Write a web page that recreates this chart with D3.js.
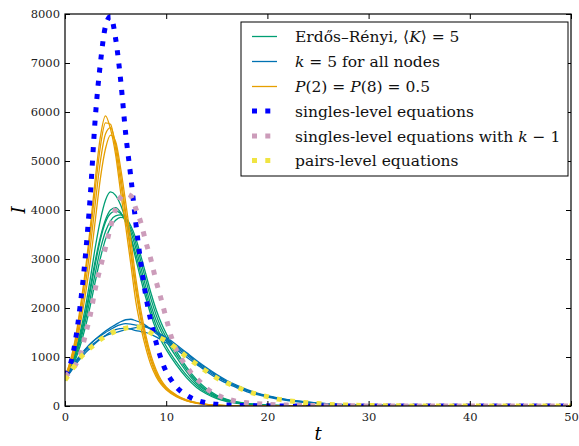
<!DOCTYPE html>
<html><head><meta charset="utf-8">
<script src="https://cdn.jsdelivr.net/npm/d3@7"></script>
<style>
body{margin:0;background:#fff;}
</style></head>
<body><svg id="c" width="579" height="446"></svg>
<script>
// ---------- data ----------
const xTicks = [0,10,20,30,40,50];
const yTicks = [0,1000,2000,3000,4000,5000,6000,7000,8000];

// time grid shared by the stochastic runs
const tRun = [0,0.5,1,1.5,2,2.5,3,3.5,4,4.5,5,5.5,6,6.5,7,7.5,8,8.5,9,9.5,10,
              11,12,13,14,15,16,17,18,19,20,22,25,30,40,50];

// Erdős–Rényi runs
const er1 = [600,800,1100,1500,2000,2600,3250,3800,4200,4370,4300,4100,3800,3420,3000,2580,2200,1850,1560,1330,1150,840,580,380,245,150,90,55,32,18,10,4,1,0,0,0];
const er2 = [580,780,1060,1430,1880,2420,2980,3450,3800,4000,4050,3950,3750,3450,3100,2700,2300,1950,1650,1420,1220,900,630,420,270,170,105,65,40,24,14,5,2,0,0,0];
const er3 = [550,750,1020,1380,1820,2350,2900,3400,3750,3930,3980,3930,3800,3550,3220,2820,2420,2050,1750,1520,1330,1000,700,460,300,185,115,70,42,25,15,6,2,0,0,0];
const er4 = [530,720,980,1310,1720,2200,2720,3200,3560,3780,3880,3900,3820,3620,3320,2950,2560,2180,1860,1600,1400,1060,750,500,320,200,125,78,48,30,18,7,2,0,0,0];
const er5 = [520,700,930,1230,1600,2050,2550,3020,3400,3650,3790,3850,3830,3680,3420,3060,2680,2300,1970,1700,1480,1120,800,540,350,220,135,85,52,32,20,8,3,0,0,0];

// k = 5 for all nodes runs
const reg1 = [560,720,880,1020,1150,1260,1360,1450,1530,1600,1660,1720,1760,1770,1740,1700,1640,1560,1480,1400,1330,1190,1040,880,730,600,490,395,315,250,195,120,55,12,1,0];
const reg2 = [540,680,830,960,1080,1180,1280,1370,1430,1470,1500,1530,1560,1580,1600,1620,1610,1570,1510,1440,1370,1220,1070,910,760,620,500,400,320,255,200,125,60,15,2,0];
const reg3 = [550,700,860,1000,1120,1220,1300,1380,1440,1510,1560,1580,1590,1570,1540,1520,1500,1460,1410,1350,1290,1150,1000,850,700,570,460,370,290,230,180,110,50,10,1,0];
const reg4 = [570,740,900,1040,1160,1270,1360,1430,1500,1560,1620,1660,1680,1670,1650,1640,1620,1580,1520,1460,1400,1250,1090,930,780,640,520,420,335,265,210,130,62,15,2,0];

// P(2)=P(8)=0.5 runs
const bim1 = [600,900,1350,2000,2750,3650,4650,5500,5920,5650,5130,4360,3660,2900,2130,1600,1170,830,600,440,330,190,105,55,30,15,8,4,2,1,0,0,0,0,0,0];
const bim2 = [600,880,1300,1930,2650,3500,4450,5300,5780,5750,5250,4550,3850,3100,2350,1750,1280,910,650,470,350,200,110,60,30,15,8,4,2,1,0,0,0,0,0,0];
const bim3 = [550,820,1200,1780,2450,3250,4150,5000,5550,5680,5350,4700,3950,3200,2450,1830,1350,960,690,500,370,215,120,65,35,18,9,5,2,1,0,0,0,0,0,0];
const bim4 = [550,800,1150,1650,2250,2950,3800,4650,5250,5530,5400,4850,4150,3400,2600,1950,1430,1030,740,530,390,225,125,70,35,18,9,5,2,1,0,0,0,0,0,0];

// singles-level equations
const tSingle = [0,0.5,1,1.5,2,2.5,3,3.5,4,4.5,5,5.5,6,6.5,7,7.5,8,8.5,9,9.5,10,10.5,11,12,13,14,15,16,18,20,25,30,40,50];
const singles = [620,830,1300,2050,3030,4300,5900,7000,7750,7950,7500,6650,5550,4680,3730,2910,2230,1720,1300,960,700,530,390,220,120,65,35,20,8,3,0,0,0,0];

// singles-level equations with k-1
const tSingleK = [0,0.5,1,1.5,2,2.5,3,3.5,4,4.5,5,5.5,6,6.5,7,7.5,8,8.5,9,9.5,10,10.5,11,11.5,12,12.5,13,13.5,14,15,16,17,18,20,22,25,30,40,50];
const singlesK = [600,700,830,1040,1440,1860,2400,2830,3230,3650,4020,4260,4330,4290,4030,3740,3340,2980,2550,2180,1790,1415,1140,960,810,667,560,463,360,230,145,95,65,35,18,8,2,0,0];

// pairs-level equations
const tPairs = [0,0.5,1,1.5,2,2.5,3,3.5,4,4.5,5,5.5,6,6.5,7,7.5,8,8.5,9,9.5,10,11,12,13,14,15,16,17,18,19,20,21,22,23,24,25,26,27,28,30,32,35,40,50];
const pairs = [530,680,840,980,1090,1185,1265,1355,1420,1480,1530,1565,1590,1605,1610,1600,1560,1490,1430,1380,1330,1175,1005,850,705,570,470,385,300,240,190,140,110,85,65,50,35,25,18,10,5,2,1,0];

const legendLabels = ["Erdős–Rényi", "k = 5 for all nodes", "P(2) = P(8) = 0.5",
  "singles-level equations", "singles-level equations with k − 1", "pairs-level equations"];

// ---------- drawing ----------
const FONT = "DejaVu Serif";
const svg = d3.select("#c");
const L = 65, R = 571, T = 14, B = 406;
const x = d3.scaleLinear().domain([0,50]).range([L,R]);
const y = d3.scaleLinear().domain([0,8000]).range([B,T]);

const cTeal = "#009E73", cBlue = "#0072B2", cOrange = "#E69F00";
const cSingle = "#0000FF", cPink = "#CC9CBA", cYellow = "#F0E442";

svg.append("defs").append("clipPath").attr("id","pc")
  .append("rect").attr("x",L).attr("y",T-1).attr("width",R-L).attr("height",B-T+1);

const g = svg.append("g").attr("clip-path","url(#pc)");
const line = (ts) => d3.line().x((d,i)=>x(ts[i])).y(d=>y(d)).curve(d3.curveMonotoneX);

function run(vals, color){
  g.append("path").datum(vals).attr("d", line(tRun))
   .attr("fill","none").attr("stroke",color).attr("stroke-width",1.3);
}
[er1,er2,er3,er4,er5].forEach(v=>run(v,cTeal));
[reg1,reg2,reg3,reg4].forEach(v=>run(v,cBlue));
[bim1,bim2,bim3,bim4].forEach(v=>run(v,cOrange));

function dotted(ts, vals, color){
  g.append("path").datum(vals).attr("d", line(ts))
   .attr("fill","none").attr("stroke",color).attr("stroke-width",5)
   .attr("stroke-dasharray","5,8.3").attr("stroke-linecap","butt");
}
dotted(tSingle, singles, cSingle);
dotted(tSingleK, singlesK, cPink);
dotted(tPairs, pairs, cYellow);

// axes (ticks inward on all sides)
const fs = "11.5px";
const fmt = d3.format("d");
const ax = svg.append("g").attr("transform",`translate(0,${B})`)
  .call(d3.axisBottom(x).tickValues(xTicks).tickFormat(fmt).tickSizeInner(-5).tickSizeOuter(0).tickPadding(7));
const axT = svg.append("g").attr("transform",`translate(0,${T})`)
  .call(d3.axisTop(x).tickValues(xTicks).tickSizeInner(-5).tickSizeOuter(0).tickFormat(""));
const ay = svg.append("g").attr("transform",`translate(${L},0)`)
  .call(d3.axisLeft(y).tickValues(yTicks).tickFormat(fmt).tickSizeInner(-5).tickSizeOuter(0).tickPadding(5));
const ayR = svg.append("g").attr("transform",`translate(${R},0)`)
  .call(d3.axisRight(y).tickValues(yTicks).tickSizeInner(-5).tickSizeOuter(0).tickFormat(""));
[ax,axT,ay,ayR].forEach(a=>{
  a.attr("font-family",FONT).attr("font-size",fs);
  a.select(".domain").remove();
  a.selectAll("line").attr("stroke","#000").attr("stroke-width",1);
  a.selectAll("text").attr("fill","#222").style("font-family",FONT).attr("font-size",fs);
});
svg.append("rect").attr("x",L).attr("y",T).attr("width",R-L).attr("height",B-T)
  .attr("fill","none").attr("stroke","#000").attr("stroke-width",1.2);

// axis labels
svg.append("text").attr("x",318).attr("y",440).attr("text-anchor","middle").style("font-family",FONT)
  .attr("font-size","18px").attr("font-style","italic").text("t");
svg.append("text").attr("transform","translate(25,210) rotate(-90)").attr("text-anchor","middle").style("font-family",FONT)
  .attr("font-size","18px").attr("font-style","italic").text("I");

// legend
const lg = svg.append("g");
lg.append("rect").attr("x",241).attr("y",22).attr("width",327).attr("height",154)
  .attr("fill","#fff").attr("stroke","#000").attr("stroke-width",1);
const rowY = [36.5,61.5,86.5,111,136,160.5];
const lc = [cTeal,cBlue,cOrange,cSingle,cPink,cYellow];
rowY.forEach((yy,i)=>{
  if(i<3){
    lg.append("line").attr("x1",252).attr("x2",277).attr("y1",yy).attr("y2",yy)
      .attr("stroke",lc[i]).attr("stroke-width",1.3);
  } else {
    lg.append("line").attr("x1",252).attr("x2",277).attr("y1",yy).attr("y2",yy)
      .attr("stroke",lc[i]).attr("stroke-width",5).attr("stroke-dasharray","5,8.3");
  }
});
const tx = 295, fsz = "15.5px";
function row(i){
  return lg.append("text").attr("x",tx).attr("y",rowY[i]+5.5).attr("font-size",fsz)
    .style("font-family",FONT).attr("fill","#111");
}
let t0 = row(0);
t0.append("tspan").text(legendLabels[0]+", ⟨");
t0.append("tspan").attr("font-style","italic").text("K");
t0.append("tspan").text("⟩ = 5");
let t1 = row(1);
t1.append("tspan").attr("font-style","italic").text("k");
t1.append("tspan").text(legendLabels[1].slice(1));
let t2 = row(2);
t2.append("tspan").attr("font-style","italic").text("P");
t2.append("tspan").text("(2) = ");
t2.append("tspan").attr("font-style","italic").text("P");
t2.append("tspan").text("(8) = 0.5");
row(3).text(legendLabels[3]);
let t4 = row(4);
t4.append("tspan").text("singles-level equations with ");
t4.append("tspan").attr("font-style","italic").text("k");
t4.append("tspan").text(" − 1");
row(5).text(legendLabels[5]);
</script></body></html>
